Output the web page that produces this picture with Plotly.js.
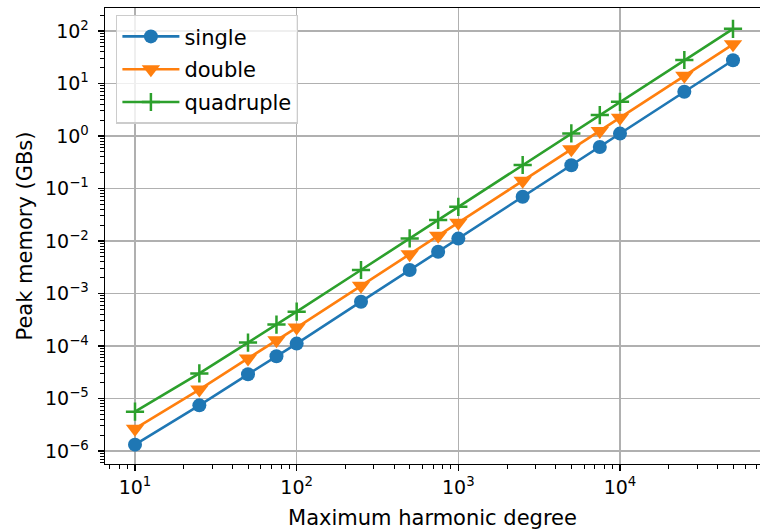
<!DOCTYPE html>
<html>
<head>
<meta charset="utf-8">
<script src="https://cdn.plot.ly/plotly-3.0.1.min.js"></script>
<style>
  html, body { margin: 0; padding: 0; background: #ffffff; }
  #chart { width: 760px; height: 532px; }
</style>
</head>
<body>
<div id="chart"></div>
<script>
// Maximum harmonic degree of each run
const degrees = [10, 25, 50, 75, 100, 250, 500, 750, 1000, 2500, 5000, 7500, 10000, 25000, 50000];

// Peak memory in GBs for each precision
const singleMem = [1.32e-6, 7.4e-6, 2.89e-5, 6.37e-5, 1.11e-4, 6.98e-4, 2.8e-3, 6.25e-3, 1.11e-2, 6.98e-2, 0.277, 0.617, 1.11, 6.98, 27.7];
const doubleMem = [2.66e-6, 1.48e-5, 5.8e-5, 1.28e-4, 2.24e-4, 1.4e-3, 5.6e-3, 1.26e-2, 2.23e-2, 0.140, 0.557, 1.24, 2.23, 14.0, 55.8];
const quadMem   = [5.6e-6, 3.0e-5, 1.16e-4, 2.56e-4, 4.5e-4, 2.8e-3, 1.12e-2, 2.52e-2, 4.47e-2, 0.280, 1.12, 2.5, 4.48, 28.0, 110];

// Tick labels
const xTickVals = [1e1, 1e2, 1e3, 1e4];
const xTickText = ['10<sup>1</sup>', '10<sup>2</sup>', '10<sup>3</sup>', '10<sup>4</sup>'];
const yTickVals = [1e-6, 1e-5, 1e-4, 1e-3, 1e-2, 1e-1, 1e0, 1e1, 1e2];
const yTickText = ['10<sup>\u22126</sup>', '10<sup>\u22125</sup>', '10<sup>\u22124</sup>', '10<sup>\u22123</sup>',
                   '10<sup>\u22122</sup>', '10<sup>\u22121</sup>', '10<sup>0</sup>', '10<sup>1</sup>', '10<sup>2</sup>'];

// Log minor ticks at 2..9 of every decade
function minorTicks(lo, hi) {
  const out = [];
  for (let e = lo; e <= hi; e++) {
    for (let d = 2; d <= 9; d++) out.push(d * Math.pow(10, e));
  }
  return out;
}

const FONT = 'DejaVu Sans, sans-serif';
const lineW = 2.6;

const traces = [
  {
    x: degrees, y: singleMem, name: 'single', legendgroup: 'a',
    mode: 'lines+markers', type: 'scatter',
    line: { color: '#1f77b4', width: lineW },
    marker: { symbol: 'circle', size: 14, color: '#1f77b4' }
  },
  {
    x: degrees, y: doubleMem, name: 'double', legendgroup: 'b',
    mode: 'lines+markers', type: 'scatter',
    line: { color: '#ff7f0e', width: lineW },
    marker: { symbol: 'triangle-down', size: 16, color: '#ff7f0e' }
  },
  {
    x: degrees, y: quadMem, name: 'quadruple', legendgroup: 'c',
    mode: 'lines+markers', type: 'scatter',
    line: { color: '#2ca02c', width: lineW },
    marker: { symbol: 'cross-thin', size: 13, color: '#2ca02c',
              line: { color: '#2ca02c', width: 2.5 } }
  }
];

const axisCommon = {
  type: 'log',
  showgrid: true, gridcolor: '#b0b0b0', gridwidth: 1.4,
  zeroline: false,
  showline: true, linecolor: '#000000', linewidth: 1.4,
  ticks: 'outside', ticklen: 6, tickwidth: 1.4, tickcolor: '#000000',
  tickmode: 'array',
  tickfont: { family: FONT, size: 19, color: '#000000' }
};

const layout = {
  width: 760, height: 532,
  margin: { l: 105, r: 0, t: 8, b: 68 },
  paper_bgcolor: '#ffffff', plot_bgcolor: '#ffffff',
  showlegend: true,
  xaxis: Object.assign({}, axisCommon, {
    range: [0.8144, 4.866],
    mirror: true,
    tickvals: xTickVals, ticktext: xTickText,
    minor: { tickmode: 'array', tickvals: minorTicks(0, 4), ticks: 'outside',
             ticklen: 3.5, tickwidth: 1, tickcolor: '#000000', showgrid: false },
    title: { text: 'Maximum harmonic degree', font: { family: FONT, size: 21, color: '#000000' }, standoff: 13 }
  }),
  yaxis: Object.assign({}, axisCommon, {
    range: [-6.248, 2.438],
    mirror: false,
    ticklabelstandoff: 5,
    tickvals: yTickVals, ticktext: yTickText,
    minor: { tickmode: 'array', tickvals: minorTicks(-7, 2), ticks: 'outside',
             ticklen: 3.5, tickwidth: 1, tickcolor: '#000000', showgrid: false },
    title: { text: 'Peak memory (GBs)', font: { family: FONT, size: 21, color: '#000000' }, standoff: 6 }
  }),
  legend: {
    x: 0.0168, y: 0.985, xanchor: 'left', yanchor: 'top',
    bgcolor: 'rgba(255,255,255,0.8)', bordercolor: '#cccccc', borderwidth: 1.4,
    font: { family: FONT, size: 21, color: '#000000' },
    traceorder: 'grouped', tracegroupgap: 2.5,
    itemwidth: 57
  }
};

Plotly.newPlot('chart', traces, layout, { displayModeBar: false, staticPlot: true });
</script>
</body>
</html>
